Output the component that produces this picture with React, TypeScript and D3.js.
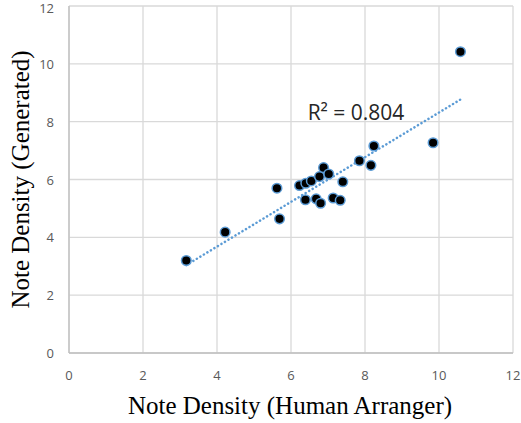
import React from 'react';
import * as d3 from 'd3';

// readings from the reference
const humanDensity = [3.17, 4.22, 5.62, 5.69, 6.23, 6.4, 6.55, 6.39, 6.68, 6.8, 6.77, 6.88, 7.02, 7.14, 7.33, 7.4, 7.85, 8.24, 8.16, 9.84, 10.58];
const generatedDensity = [3.2, 4.18, 5.7, 4.64, 5.79, 5.87, 5.95, 5.3, 5.33, 5.18, 6.1, 6.41, 6.19, 5.36, 5.28, 5.92, 6.65, 7.16, 6.49, 7.27, 10.42];
const xTicks = [0, 2, 4, 6, 8, 10, 12];
const yTicks = [0, 2, 4, 6, 8, 10, 12];
const rSquaredLabel = 'R² = 0.804';

const App = () => {
  const width = 521;
  const height = 423;
  const margin = { top: 6, right: 8, bottom: 70, left: 69 };
  const innerW = width - margin.left - margin.right;
  const innerH = height - margin.top - margin.bottom;

  const x = d3.scaleLinear().domain([0, 12]).range([0, innerW]);
  const y = d3.scaleLinear().domain([0, 12]).range([innerH, 0]);

  const points = humanDensity.map((h, i) => ({ x: h, y: generatedDensity[i] }));

  // least squares trendline
  const mx = d3.mean(points, (d) => d.x) as number;
  const my = d3.mean(points, (d) => d.y) as number;
  const sxy = d3.sum(points, (d) => (d.x - mx) * (d.y - my));
  const sxx = d3.sum(points, (d) => (d.x - mx) ** 2);
  const slope = sxy / sxx;
  const intercept = my - slope * mx;
  const [x0, x1] = d3.extent(humanDensity) as [number, number];
  const trend = d3.line<number>().x((v) => x(v)).y((v) => y(intercept + slope * v));

  const tickFont = '"Open Sans", "Noto Sans", sans-serif';
  const titleFont = '"Liberation Serif", "Times New Roman", serif';

  return (
    <svg width={width} height={height} style={{ position: 'absolute', left: 0, top: 0, background: '#fff' }}>
      <g transform={`translate(${margin.left}, ${margin.top})`}>
        {/* grid */}
        {xTicks.map((t) => (
          <line key={`gx-${t}`} x1={x(t)} x2={x(t)} y1={0} y2={innerH} stroke="#d9d9d9" strokeWidth={1.3} />
        ))}
        {yTicks.map((t) => (
          <line key={`gy-${t}`} x1={0} x2={innerW} y1={y(t)} y2={y(t)} stroke="#d9d9d9" strokeWidth={1.3} />
        ))}
        <line x1={0} x2={innerW} y1={innerH} y2={innerH} stroke="#bfbfbf" strokeWidth={1.3} />
        <line x1={0} x2={0} y1={0} y2={innerH} stroke="#bfbfbf" strokeWidth={1.3} />

        {/* tick labels */}
        {xTicks.map((t) => (
          <text key={`tx-${t}`} x={x(t)} y={innerH + 27} textAnchor="middle" fontSize={13} fill="#595959" fontFamily={tickFont}>
            {t}
          </text>
        ))}
        {yTicks.map((t) => (
          <text key={`ty-${t}`} x={-15} y={Math.max(y(t) + 5, 7)} textAnchor="end" fontSize={13} fill="#595959" fontFamily={tickFont}>
            {t}
          </text>
        ))}

        {/* trendline */}
        <path
          d={trend([x0, x1]) as string}
          fill="none"
          stroke="#5b9bd5"
          strokeWidth={2.5}
          strokeDasharray="0.1 4"
          strokeLinecap="round"
        />

        {/* points */}
        {points.map((d, i) => (
          <circle key={`pt-${i}`} cx={x(d.x)} cy={y(d.y)} r={4.8} fill="#000" stroke="#5b9bd5" strokeWidth={1.5} />
        ))}

        <text x={x(6.45)} y={y(8.3) + 7} fontSize={21} fill="#262626" fontFamily={tickFont}>
          {rSquaredLabel}
        </text>
      </g>

      {/* axis titles */}
      <text x={margin.left + innerW / 2 - 1} y={414} textAnchor="middle" fontSize={25} fill="#000" fontFamily={titleFont}>
        Note Density (Human Arranger)
      </text>
      <text
        transform={`translate(29, ${margin.top + innerH / 2}) rotate(-90)`}
        textAnchor="middle"
        fontSize={25}
        fill="#000"
        fontFamily={titleFont}
      >
        Note Density (Generated)
      </text>
    </svg>
  );
};

export default App;
